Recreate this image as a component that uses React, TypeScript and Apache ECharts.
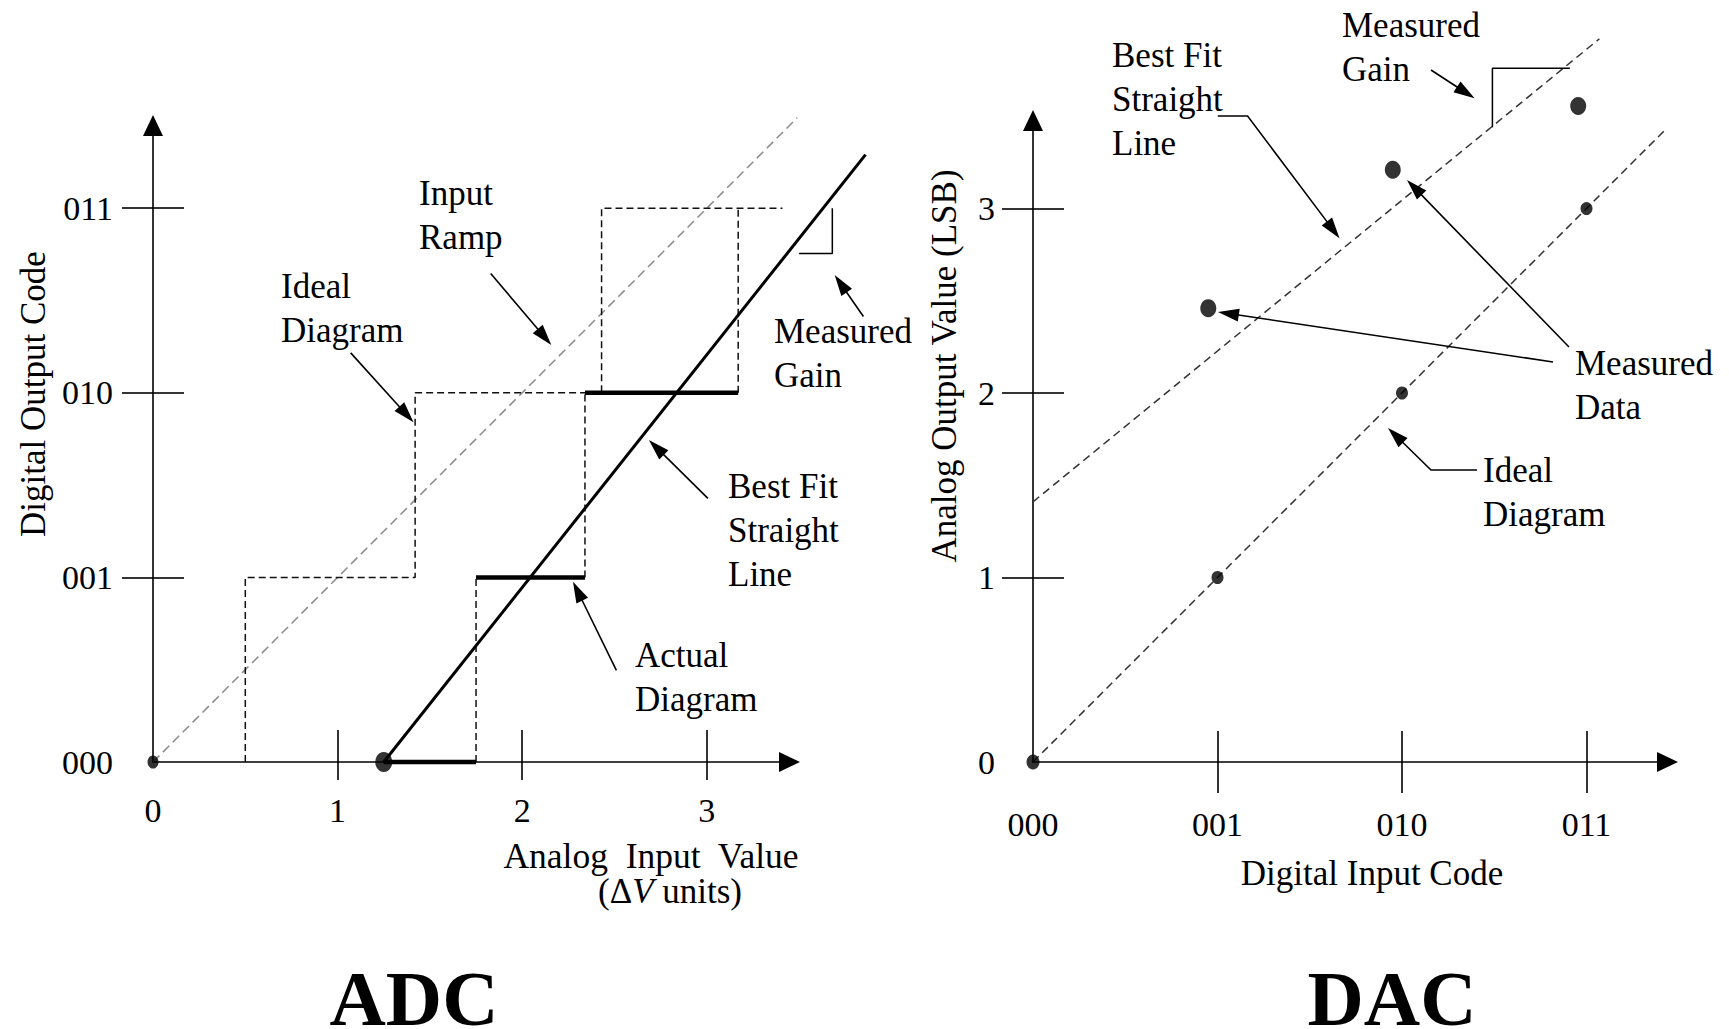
import React, { useEffect, useRef } from 'react';
import * as echarts from 'echarts';

const FONT = '"Liberation Serif", "Times New Roman", Times, serif';

// ---------- ADC data (x: analog input in ΔV units, y: output code index) ----------
const adcXLabels = [0, 1, 2, 3];
const adcCodes = ['000', '001', '010', '011'];
const adcTickValues = [1, 2, 3];
const adcLabelValues = [0, 1, 2, 3];
const adcRamp = [[0, 0], [3.49, 3.49]];
const adcIdealStair = [[0.5, 0], [0.5, 1], [1.42, 1], [1.42, 2], [2.43, 2], [2.43, 3], [3.41, 3]];
const adcActualTreads = [
  [[1.25, 0], [1.75, 0]],
  [[1.75, 1], [2.34, 1]],
  [[2.34, 2], [3.17, 2]],
];
const adcActualRisers = [
  [[1.75, 0], [1.75, 1]],
  [[2.34, 1], [2.34, 2]],
  [[3.17, 2], [3.17, 3]],
];
const adcBestFit = [[1.25, 0], [3.86, 3.29]];
const adcGainMark = [[3.68, 3.0], [3.68, 2.755], [3.5, 2.755]];
const adcOriginDot = [[0, 0]];
const adcStartDot = [[1.25, 0]];

// ---------- DAC data (x: digital input code index, y: analog output in LSB) ----------
const dacCodes = ['000', '001', '010', '011'];
const dacYLabels = [0, 1, 2, 3];
const dacTickValues = [1, 2, 3];
const dacLabelValues = [0, 1, 2, 3];
const dacIdeal = [[0, 0], [3.42, 3.42]];
const dacIdealPoints = [[1, 1], [2, 2], [3, 3]];
const dacBestFit = [[0, 1.41], [3.07, 3.92]];
const dacMeasured = [[0.95, 2.46], [1.95, 3.21], [2.955, 3.556]];
const dacGainMark = [[2.49, 3.44], [2.49, 3.76], [2.91, 3.76]];
const dacOriginDot = [[0, 0]];

// ---------- layout (pixels) ----------
const UNIT = 184.6;
const ADC_GRID = { left: 153, top: 125.5, width: 636.5, height: 636.5 };
const ADC_MAX = { x: 3.448, y: 3.448 };
// wider, invisible plotting area with the same scale, so lines may run past the arrow tips
const ADC_DATA_MAX_X = 4.0;
const ADC_DATA_GRID = { left: 153, top: 125.5, width: ADC_DATA_MAX_X * UNIT, height: 636.5 };
const DAC_GRID = { left: 1033, top: 120.5, width: 634.5, height: 641.5 };
const DAC_MAX = { x: 3.439, y: 3.477 };

const annotations: { text: string; x: number; y: number }[] = [
  { text: 'Input\nRamp', x: 419, y: 171 },
  { text: 'Ideal\nDiagram', x: 281, y: 264 },
  { text: 'Measured\nGain', x: 774, y: 309 },
  { text: 'Best Fit\nStraight\nLine', x: 728, y: 464 },
  { text: 'Actual\nDiagram', x: 635, y: 633 },
  { text: 'Best Fit\nStraight\nLine', x: 1112, y: 33 },
  { text: 'Measured\nGain', x: 1342, y: 3 },
  { text: 'Measured\nData', x: 1575, y: 341 },
  { text: 'Ideal\nDiagram', x: 1483, y: 448 },
];

const arrows: number[][][] = [
  [[490.7, 273.5], [551.3, 345.1]],
  [[350.7, 352.9], [413.5, 422.3]],
  [[863.4, 316.5], [834.7, 275.1]],
  [[707.9, 498.4], [648.9, 440.0]],
  [[616.4, 670.4], [573.0, 581.7]],
  [[1217.8, 116], [1247.6, 116], [1339.5, 238.3]],
  [[1431, 70], [1474.6, 98.3]],
  [[1569, 347], [1407, 180]],
  [[1553, 362], [1218, 312]],
  [[1477, 470], [1431, 470], [1388, 428]],
];

function arrowGraphic(points: number[][], headLen = 21, headW = 13) {
  const n = points.length;
  const tip = points[n - 1];
  const prev = points[n - 2];
  const dx = tip[0] - prev[0];
  const dy = tip[1] - prev[1];
  const len = Math.hypot(dx, dy);
  const ux = dx / len;
  const uy = dy / len;
  const bx = tip[0] - ux * headLen;
  const by = tip[1] - uy * headLen;
  const px = (-uy * headW) / 2;
  const py = (ux * headW) / 2;
  const shaft = points.slice(0, n - 1).concat([[bx + ux * 2, by + uy * 2]]);
  return [
    {
      type: 'polyline',
      shape: { points: shaft },
      style: { stroke: '#000', lineWidth: 1.6, fill: null },
      silent: true,
      z: 100,
    },
    {
      type: 'polygon',
      shape: { points: [tip, [bx + px, by + py], [bx - px, by - py]] },
      style: { fill: '#000' },
      silent: true,
      z: 100,
    },
  ];
}

function textEl(text: string, x: number, y: number, o: any = {}) {
  return {
    type: 'text',
    x,
    y,
    rotation: o.rotation || 0,
    silent: true,
    z: 100,
    style: {
      text,
      fill: '#000',
      fontFamily: FONT,
      fontSize: o.fontSize || 35,
      fontWeight: o.fontWeight || 'normal',
      align: o.align || 'left',
      verticalAlign: o.verticalAlign || 'top',
      lineHeight: o.lineHeight || 44,
      rich: o.rich,
    },
  };
}

function lineS(data: number[][], xi: number, yi: number, lineStyle: any, z = 2) {
  return {
    type: 'line',
    data,
    xAxisIndex: xi,
    yAxisIndex: yi,
    symbol: 'none',
    clip: false,
    silent: true,
    animation: false,
    lineStyle,
    z,
  };
}

function dotS(data: number[][], xi: number, yi: number, size: number[]) {
  return {
    type: 'scatter',
    data,
    xAxisIndex: xi,
    yAxisIndex: yi,
    symbol: 'circle',
    symbolSize: size,
    clip: false,
    silent: true,
    itemStyle: { color: '#000' },
    z: 5,
  };
}

const AXIS_LINE = {
  show: true,
  lineStyle: { color: '#000', width: 1.6 },
  symbol: ['none', 'triangle'],
  symbolSize: [20, 21],
};
const TICK_STYLE = { color: '#000', width: 1.6 };
const LABEL_BASE = { color: '#000', fontFamily: FONT, fontSize: 34 };

function axisPair(kind: 'x' | 'y', grid: number, max: number, labelValues: number[], tickValues: number[], formatter: (v: number) => string, margin: number, lenIn: number, lenOut: number) {
  const position = kind === 'x' ? 'bottom' : 'left';
  const main = {
    type: 'value',
    gridIndex: grid,
    position,
    min: 0,
    max,
    splitLine: { show: false },
    axisLine: AXIS_LINE,
    axisTick: { show: true, inside: true, length: lenIn, lineStyle: TICK_STYLE, customValues: tickValues },
    axisLabel: { ...LABEL_BASE, margin, customValues: labelValues, formatter: (v: number) => formatter(v) },
  };
  const second = {
    type: 'value',
    gridIndex: grid,
    position,
    min: 0,
    max,
    splitLine: { show: false },
    axisLine: { show: false },
    axisTick: { show: true, inside: false, length: lenOut, lineStyle: TICK_STYLE, customValues: tickValues },
    axisLabel: { show: false },
  };
  return [main, second];
}

function hiddenAxis(grid: number, max: number) {
  return {
    type: 'value',
    gridIndex: grid,
    min: 0,
    max,
    show: false,
    splitLine: { show: false },
  };
}

export default function App() {
  const ref = useRef<HTMLDivElement>(null);
  useEffect(() => {
    if (!ref.current) return;
    const chart = echarts.init(ref.current, null, { renderer: 'svg' });
    const xAxes = [
      ...axisPair('x', 0, ADC_MAX.x, adcLabelValues, adcTickValues, (v) => String(adcXLabels[Math.round(v)]), 31, 32, 18),
      ...axisPair('x', 1, DAC_MAX.x, dacLabelValues, dacTickValues, (v) => dacCodes[Math.round(v)], 45, 31, 31),
      hiddenAxis(2, ADC_DATA_MAX_X),
    ];
    const yAxes = [
      ...axisPair('y', 0, ADC_MAX.y, adcLabelValues, adcTickValues, (v) => adcCodes[Math.round(v)], 40, 31, 31),
      ...axisPair('y', 1, DAC_MAX.y, dacLabelValues, dacTickValues, (v) => String(dacYLabels[Math.round(v)]), 38, 31, 31),
      hiddenAxis(2, ADC_MAX.y),
    ];

    const dashGray = { color: '#8a8a8a', width: 1.5, type: [9, 5] };
    const dashBlack = { color: '#111', width: 1.5, type: [7, 4] };
    const dashDac = { color: '#333', width: 1.5, type: [8, 5] };
    const AX = 4; // hidden ADC plotting axes

    const series: any[] = [
      lineS(adcRamp, AX, AX, dashGray, 1),
      lineS(adcIdealStair, AX, AX, dashBlack, 2),
      ...adcActualRisers.map((seg) => lineS(seg, AX, AX, dashBlack, 2)),
      ...adcActualTreads.map((seg) => lineS(seg, AX, AX, { color: '#000', width: 4.5 }, 3)),
      lineS(adcBestFit, AX, AX, { color: '#000', width: 3 }, 4),
      lineS(adcGainMark, AX, AX, { color: '#000', width: 1.5 }, 4),
      dotS(adcOriginDot, 0, 0, [11, 13]),
      dotS(adcStartDot, 0, 0, [17, 20]),

      lineS(dacIdeal, 2, 2, dashDac, 2),
      lineS(dacBestFit, 2, 2, dashDac, 2),
      lineS(dacGainMark, 2, 2, { color: '#000', width: 1.5 }, 3),
      dotS(dacIdealPoints, 2, 2, [12, 13]),
      dotS(dacMeasured, 2, 2, [16, 18]),
      dotS(dacOriginDot, 2, 2, [13, 15]),
    ];

    const graphics: any[] = [];
    annotations.forEach((a) => graphics.push(textEl(a.text, a.x, a.y)));
    arrows.forEach((p) => graphics.push(...arrowGraphic(p)));
    graphics.push(textEl('Digital Output Code', 33, 394, { rotation: Math.PI / 2, align: 'center', verticalAlign: 'middle' }));
    graphics.push(textEl('Analog  Input  Value', 651, 856, { align: 'center', verticalAlign: 'middle', lineHeight: 32, fontSize: 35.5 }));
    graphics.push(
      textEl('(Δ{i|V} units)', 670, 891, {
        align: 'center',
        verticalAlign: 'middle',
        lineHeight: 32,
        rich: { i: { fontStyle: 'italic', fontFamily: FONT, fontSize: 35, fill: '#000', lineHeight: 32 } },
      })
    );
    graphics.push(textEl('Analog Output Value (LSB)', 944, 366, { rotation: Math.PI / 2, align: 'center', verticalAlign: 'middle' }));
    graphics.push(textEl('Digital Input Code', 1372, 873, { align: 'center', verticalAlign: 'middle' }));
    graphics.push(textEl('ADC', 414, 998, { align: 'center', verticalAlign: 'middle', fontSize: 78, fontWeight: 'bold', lineHeight: 58 }));
    graphics.push(textEl('DAC', 1392, 998, { align: 'center', verticalAlign: 'middle', fontSize: 78, fontWeight: 'bold', lineHeight: 58 }));

    chart.setOption({
      animation: false,
      backgroundColor: '#fff',
      grid: [
        { ...ADC_GRID, containLabel: false },
        { ...DAC_GRID, containLabel: false },
        { ...ADC_DATA_GRID, containLabel: false },
      ],
      xAxis: xAxes,
      yAxis: yAxes,
      series,
      graphic: { elements: graphics },
    });
    return () => chart.dispose();
  }, []);
  return <div ref={ref} style={{ position: 'fixed', left: 0, top: 0, width: 1729, height: 1029, background: '#fff' }} />;
}
